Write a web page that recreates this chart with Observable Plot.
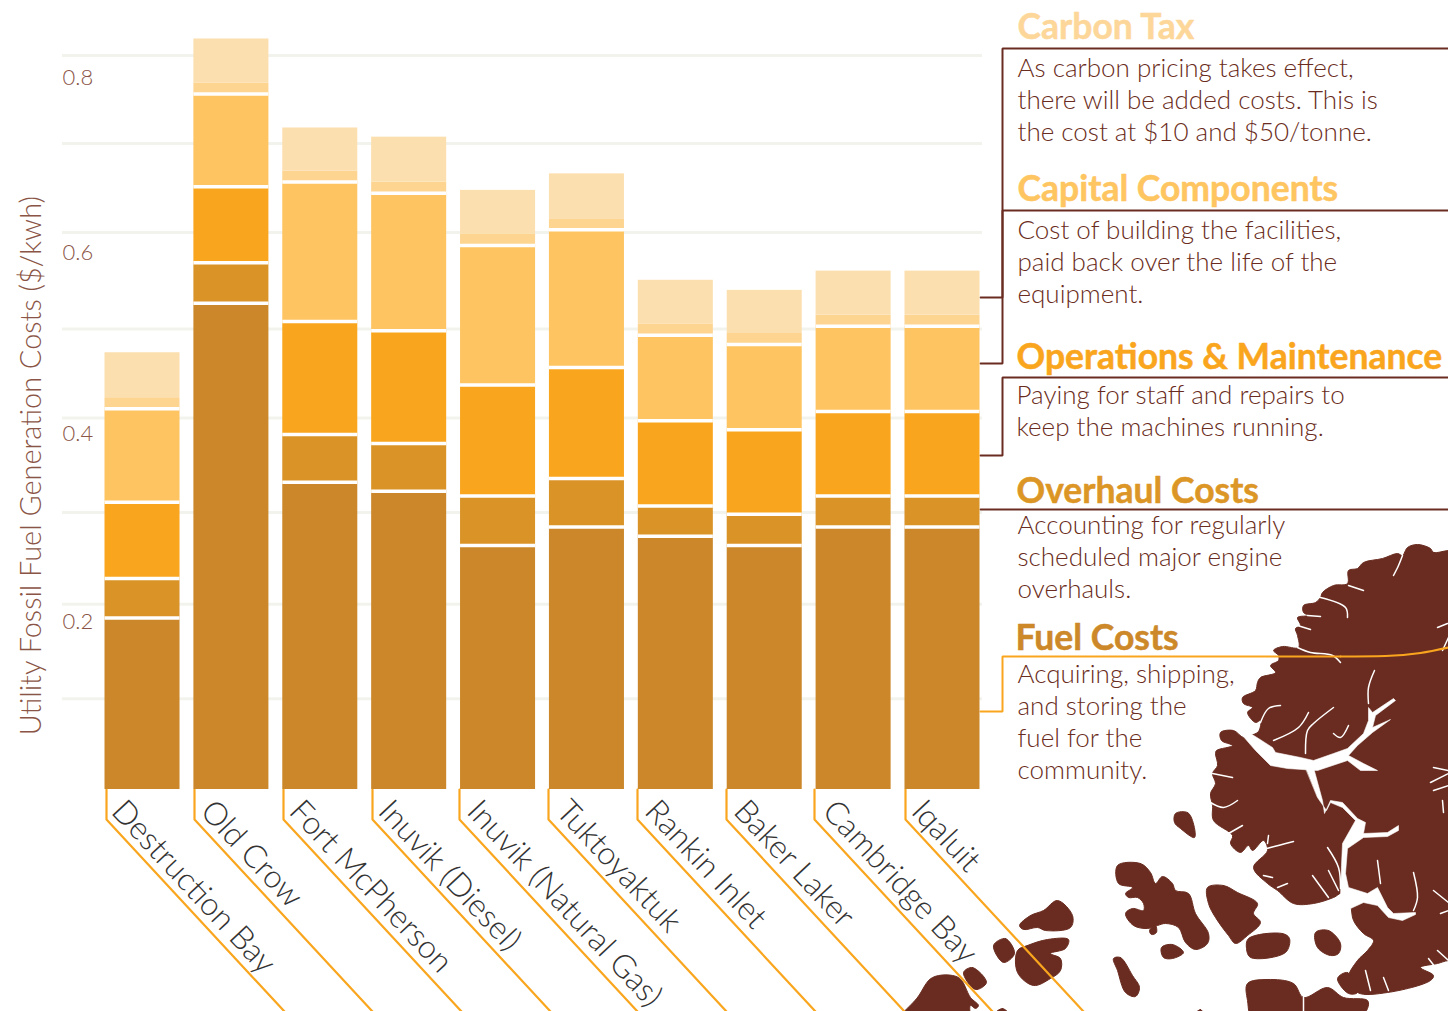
<!DOCTYPE html>
<html><head><meta charset="utf-8">
<style>html,body{margin:0;padding:0;background:#fff}#chart{width:1448px;height:1011px;overflow:hidden}svg{display:block}</style>
<script src="https://cdn.jsdelivr.net/npm/d3@7"></script>
<script src="https://cdn.jsdelivr.net/npm/@observablehq/plot@0.6"></script>
</head><body><div id="chart"></div>
<script>
const stations = ["Destruction Bay","Old Crow","Fort McPherson","Inuvik (Diesel)","Inuvik (Natural Gas)","Tuktoyaktuk","Rankin Inlet","Baker Laker","Cambridge Bay","Iqaluit"];
const fuelCosts     = [0.187,0.530,0.335,0.325,0.266,0.286,0.276,0.266,0.286,0.286];
const overhaulCosts = [0.043,0.044,0.052,0.052,0.054,0.053,0.033,0.034,0.034,0.034];
const omCosts       = [0.083,0.083,0.123,0.123,0.121,0.121,0.093,0.092,0.092,0.092];
const capitalCosts  = [0.102,0.101,0.152,0.150,0.152,0.150,0.093,0.093,0.093,0.093];
const carbon10      = [0.012,0.012,0.012,0.012,0.012,0.012,0.012,0.012,0.012,0.012];
const carbon50      = [0.049,0.048,0.047,0.049,0.048,0.049,0.048,0.047,0.048,0.048];
const seriesNames = ["Fuel","Overhaul","Operations","Capital","Carbon $10","Carbon $50"];
const seriesValues = [fuelCosts,overhaulCosts,omCosts,capitalCosts,carbon10,carbon50];
const gridValues = [0.099,0.202,0.302,0.405,0.502,0.607,0.704,0.8];
const tickLabels = ["0.2","0.4","0.6","0.8"];
const tickLabelValues = [0.183,0.388,0.585,0.776];
const yTitle = "Utility Fossil Fuel Generation Costs ($/kwh)";

const noteHeads = ["Carbon Tax","Capital Components","Operations & Maintenance","Overhaul Costs","Fuel Costs"];
const noteBodies = [
  ["As carbon pricing takes effect,","there will be added costs. This is","the cost at $10 and $50/tonne."],
  ["Cost of building the facilities,","paid back over the life of the","equipment."],
  ["Paying for staff and repairs to","keep the machines running."],
  ["Accounting for regularly","scheduled major engine","overhauls."],
  ["Acquiring, shipping,","and storing the","fuel for the","community."]
];
const barLefts = [106,194,283,372,459,548,637,726,814,905];

const landShapes = [
 [[1448,550],[1433,552],[1430,548],[1417,544],[1407,547],[1402,555],[1397,553],[1382,558],[1363,562],[1357,568],[1348,570],[1347,583],[1333,585],[1322,592],[1320,597],[1315,602],[1303,605],[1303,612],[1308,615],[1297,617],[1300,625],[1295,628],[1297,635],[1298,647],[1282,646],[1273,650],[1278,655],[1278,660],[1270,665],[1275,672],[1260,677],[1257,682],[1255,690],[1242,697],[1243,703],[1252,707],[1247,712],[1255,722],[1260,720],[1258,731],[1250,735],[1243,737],[1233,730],[1220,732],[1221,740],[1232,745],[1216,750],[1215,753],[1217,765],[1212,773],[1215,783],[1210,793],[1212,805],[1213,820],[1232,835],[1230,843],[1240,852],[1248,845],[1252,850],[1263,840],[1267,850],[1253,867],[1267,883],[1277,890],[1293,903],[1313,903],[1333,897],[1343,892],[1350,905],[1353,920],[1363,933],[1373,940],[1367,950],[1357,960],[1348,977],[1357,992],[1387,992],[1430,980],[1433,975],[1420,967],[1437,963],[1448,960],[1470,960],[1470,550]],
 [[1175,813],[1187,812],[1192,820],[1194,837],[1180,828],[1174,822]],
 [[1117,865],[1140,863],[1150,872],[1155,883],[1162,876],[1172,883],[1175,890],[1188,893],[1195,913],[1208,933],[1207,943],[1195,949],[1185,942],[1178,927],[1165,923],[1157,925],[1147,928],[1133,925],[1125,913],[1132,908],[1143,910],[1143,903],[1137,897],[1128,897],[1125,893],[1132,887],[1118,883]],
 [[1149,930],[1155,925],[1156,932],[1151,934]],
 [[1207,887],[1223,885],[1237,892],[1257,903],[1253,913],[1260,922],[1247,935],[1235,943],[1228,935],[1215,917],[1208,903]],
 [[1161,947],[1172,944],[1183,952],[1172,958],[1163,957]],
 [[1248,938],[1282,933],[1289,938],[1285,952],[1250,957],[1246,948]],
 [[1315,932],[1328,930],[1340,943],[1338,953],[1330,955],[1317,947]],
 [[1113,958],[1120,957],[1132,975],[1139,987],[1135,996],[1125,992],[1117,970]],
 [[1337,978],[1347,972],[1357,992],[1348,993]],
 [[1247,983],[1267,979],[1293,983],[1303,997],[1327,987],[1343,997],[1367,1000],[1367,1008],[1350,1025],[1255,1025],[1247,1000]],
 [[1190,1020],[1200,1009],[1205,1020]],
 [[895,1025],[917,997],[932,977],[958,977],[970,997],[978,1005],[975,1008],[970,1005],[967,1025]],
 [[963,972],[972,967],[986,982],[975,989]],
 [[993,945],[1005,938],[1014,953],[1003,962]],
 [[1017,950],[1027,945],[1047,939],[1068,939],[1065,948],[1050,953],[1060,958],[1060,970],[1050,978],[1033,985],[1017,972]],
 [[1019,925],[1030,915],[1043,910],[1057,900],[1072,915],[1070,927],[1045,930],[1037,927],[1023,929]],
 [[985,1025],[1002,1008],[1015,1025]]
];
const waterShapes = [
 [[1245,730],[1258,738],[1272,747],[1275,752],[1300,757],[1313,760],[1333,753],[1347,748],[1363,733],[1368,720],[1368,707],[1372,712],[1393,698],[1395,700],[1375,715],[1372,727],[1390,719],[1372,732],[1357,745],[1348,755],[1363,763],[1377,770],[1360,770],[1347,760],[1317,770],[1287,768],[1270,765],[1255,750],[1242,735]],
 [[1305,767],[1313,767],[1322,800],[1324,813],[1330,800],[1342,802],[1357,818],[1365,822],[1363,833],[1387,832],[1398,825],[1398,830],[1387,836],[1363,837],[1347,848],[1345,873],[1348,887],[1367,893],[1377,887],[1387,907],[1393,913],[1415,912],[1415,914],[1402,920],[1388,917],[1377,905],[1363,902],[1350,908],[1340,897],[1341,865],[1342,843],[1355,820],[1342,807],[1330,802],[1326,810],[1317,797]]
];
const inletLines = [
 [[1402,555],[1398,565],[1393,575]],[[1348,585],[1363,590]],[[1320,597],[1345,607],[1347,617]],[[1307,615],[1320,616]],[[1297,625],[1310,629]],
 [[1297,647],[1310,652],[1332,655],[1340,662]],[[1374,670],[1368,687],[1368,703]],[[1333,707],[1313,723],[1307,730],[1305,753]],
 [[1308,712],[1298,727],[1273,740]],[[1280,705],[1268,708],[1260,722]],[[1348,725],[1340,737],[1333,733]],[[1447,623],[1437,627]],[[1448,637],[1442,650]],
 [[1212,773],[1232,777]],[[1210,802],[1223,807],[1237,800]],[[1228,833],[1242,825]],[[1260,850],[1270,847],[1293,841]],[[1267,843],[1268,835]],
 [[1327,847],[1338,867],[1340,888]],[[1312,875],[1328,897]],[[1328,870],[1338,890]],[[1263,875],[1272,877]],[[1277,887],[1287,883]],
 [[1413,872],[1417,897],[1413,910]],[[1377,860],[1380,883]],[[1430,782],[1448,773]],[[1433,767],[1448,770]],[[1433,790],[1448,785]],[[1442,800],[1443,812]],
 [[1433,890],[1448,902]],[[1440,913],[1448,910]],[[1365,970],[1370,990]],[[1383,977],[1388,990]],[[1437,950],[1448,960]],[[1428,958],[1435,967]],[[1303,997],[1303,1011]]
];
const bracketLines = [
 [[1448,48],[1002,48],[1002,297],[980,297]],
 [[1448,210],[1002,210],[1002,363],[980,363]],
 [[1448,377],[1002,377],[1002,455],[980,455]],
 [[1448,509],[980,509]]
];
const fuelBracket = [[980,711],[1002,711],[1002,656],[1340,656]];
const fuelCurve = [[1340,656],[1385,655.5],[1420,652.5],[1448,647]];

// ---- derived tables ----
const rows = stations.flatMap((station,i)=>seriesNames.map((series,s)=>({station,series,value:seriesValues[s][i]})));
const gapRows = stations.flatMap((station,i)=>{let t=0;return [0,1,2,3].map(s=>({station,top:t+=seriesValues[s][i]}));});
const toShape = list => list.flatMap((pts,k)=>pts.map(p=>({x:p[0],y:p[1],k})));
const leaders = barLefts.flatMap((x,k)=>[[x,789],[x,819],[x+178,1011]].map(p=>({x:p[0],y:p[1],k})));

const brown="#6a2c20", orange="#f9a61e", font="Lato, sans-serif";
const headColors=["#fdd79a","#fec561","#f9a61e","#dc9626","#cc8829"];
const headY=[27,189,357,491,638];
const bodyY=[[68,100,132],[230,262,294],[395,427],[525,557,589],[674,706,738,770]];
const headX=[1017,1017,1016,1016,1015];
const bodyX=[1017,1017,1016,1017,1017];
const heads=noteHeads.map((text,i)=>({text,x:headX[i],y:headY[i],color:headColors[i]}));
const bodies=noteBodies.flatMap((lines,i)=>lines.map((text,j)=>({text,x:bodyX[i],y:bodyY[i][j]})));

const identity={x:{type:"linear",domain:[0,1448],range:[0,1448],axis:null},y:{type:"linear",domain:[0,1011],range:[0,1011],axis:null}};
const underlay = Plot.plot({
  width:1448,height:1011,margin:0,...identity,
  style:{background:"transparent",fontFamily:font},
  marks:[
    Plot.line(toShape(landShapes),{x:"x",y:"y",z:"k",fill:brown,stroke:brown,strokeWidth:1,curve:"catmull-rom-closed",clip:true}),
    Plot.line(toShape(waterShapes),{x:"x",y:"y",z:"k",fill:"#fff",stroke:"#fff",strokeWidth:0.6,curve:"linear-closed"}),
    Plot.line(toShape(inletLines),{x:"x",y:"y",z:"k",stroke:"#fff",strokeWidth:1.5,curve:"catmull-rom"}),
    Plot.line(leaders,{x:"x",y:"y",z:"k",stroke:orange,strokeWidth:2.2,strokeLinejoin:"miter"}),
    Plot.line(toShape(bracketLines),{x:"x",y:"y",z:"k",stroke:brown,strokeWidth:2,strokeLinejoin:"miter"}),
    Plot.line(fuelBracket.map(p=>({x:p[0],y:p[1]})),{x:"x",y:"y",stroke:orange,strokeWidth:2,strokeLinejoin:"miter"}),
    Plot.line(fuelCurve.map(p=>({x:p[0],y:p[1]})),{x:"x",y:"y",stroke:orange,strokeWidth:2,curve:"monotone-x"}),
    Plot.text(heads,{x:"x",y:"y",text:"text",fill:"color",stroke:"color",strokeWidth:0.5,textAnchor:"start",fontSize:35.5,fontWeight:700,fontFamily:font}),
    Plot.text(bodies,{x:"x",y:"y",text:"text",fill:brown,textAnchor:"start",fontSize:26,fontWeight:300,fontFamily:font})
  ]
});

const chart = Plot.plot({
  width:1448,height:1011,margin:0,
  style:{background:"#fff",fontFamily:font},
  x:{type:"band",domain:stations,range:[104.5,979.5],paddingInner:0.156,paddingOuter:0,round:false,axis:null},
  y:{domain:[0,0.8],range:[789,55],axis:null},
  color:{domain:seriesNames,range:["#cb8729","#da9327","#f9a61e","#fec461","#fdd490","#fcdfae"]},
  marks:[
    Plot.ruleY(gridValues,{stroke:"#f3f3ee",strokeWidth:3,insetLeft:62,insetRight:466}),
    ()=>underlay,
    Plot.barY(rows,{x:"station",y:"value",z:"series",fill:"series",order:null}),
    Plot.tickY(gapRows,{x:"station",y:"top",stroke:"#fff",strokeWidth:3.5}),
    Plot.text(tickLabels,{y:(d,i)=>tickLabelValues[i],text:d=>d,frameAnchor:"left",dx:62,textAnchor:"start",fontSize:22,fontWeight:300,fill:"#8a5546",fontFamily:font}),
    Plot.text([yTitle],{y:[0.353],text:d=>d,frameAnchor:"left",dx:31,rotate:-90,textAnchor:"middle",fontSize:28.9,fontWeight:300,fill:"#8a5546",fontFamily:font}),
    Plot.text(stations,{x:d=>d,y:()=>0,text:d=>d,dx:-25,dy:16,rotate:47,textAnchor:"start",fontSize:32,fontWeight:300,fill:"#333",fontFamily:font})
  ]
});
document.getElementById("chart").append(chart);
</script></body></html>
